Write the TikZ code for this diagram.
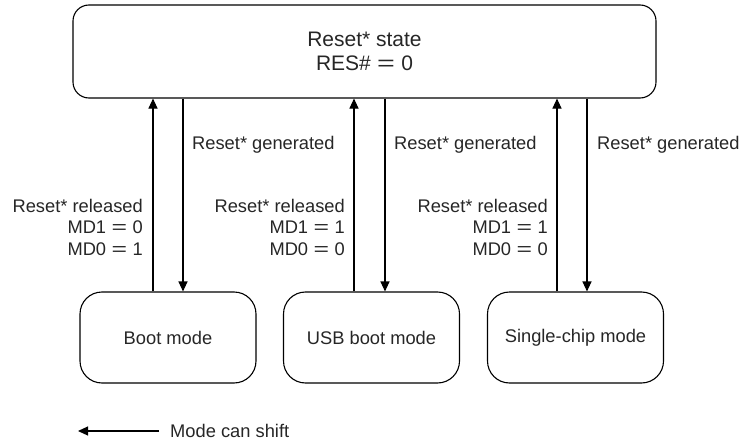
\documentclass[tikz,border=0pt]{standalone}
\usepackage{fontspec}
\setmainfont{Liberation Sans}
\usetikzlibrary{arrows.meta}
\newcommand{\wideeq}{\hspace{0.3em}\scalebox{1.45}[1]{=}\hspace{0.3em}}
\begin{document}
\begin{tikzpicture}[x=1pt,y=-1pt,
  every node/.style={font=\fontsize{18.3}{21.5}\selectfont, text=black!85},
  statebox/.style={draw, line width=1.1pt, rounded corners=#1, inner sep=0pt},
  arr/.style={-{Triangle[length=10pt,width=9pt]}, line width=1.1pt},
  lbl/.style={align=right, anchor=east, inner sep=0pt},
  glbl/.style={anchor=west, inner sep=0pt}]
\useasboundingbox (0,0) rectangle (742,444);
\node[statebox=16pt, minimum width=583pt, minimum height=93pt, align=center,
      font=\fontsize{21}{24.5}\selectfont] (top) at (364.5,51.5) {Reset* state\\RES\#\wideeq 0};
\node[statebox=22pt, minimum width=176pt, minimum height=91pt] (boot) at (168,337.5) {Boot mode};
\node[statebox=22pt, minimum width=176pt, minimum height=91pt] (usb) at (371.5,337.5) {USB boot mode};
\node[statebox=22pt, minimum width=176pt, minimum height=91pt] (single) at (575.5,337.5) {Single-chip mode};
% up arrows (released)
\draw[arr] (boot.north -| 153,0) -- (top.south -| 153,0);
\draw[arr] (usb.north -| 354,0) -- (top.south -| 354,0);
\draw[arr] (single.north -| 557,0) -- (top.south -| 557,0);
% down arrows (generated)
\draw[arr] (top.south -| 183,0) -- (boot.north -| 183,0);
\draw[arr] (top.south -| 385,0) -- (usb.north -| 385,0);
\draw[arr] (top.south -| 587,0) -- (single.north -| 587,0);
% labels
\node[glbl] (g1) at (192,145) {Reset* generated};
\node[glbl] (g2) at (394,145) {Reset* generated};
\node[glbl] (g3) at (597,145) {Reset* generated};
\node[lbl] (r1) at (143,227) {Reset* released\\MD1\wideeq 0\\MD0\wideeq 1};
\node[lbl] (r2) at (345,227) {Reset* released\\MD1\wideeq 1\\MD0\wideeq 0};
\node[lbl] (r3) at (548,227) {Reset* released\\MD1\wideeq 1\\MD0\wideeq 0};
% legend
\node[glbl] (leg) at (170,431) {Mode can shift};
\coordinate (legend end) at (78,431);
\draw[arr] (leg.west) ++(-11,0) -- (legend end);
\end{tikzpicture}
\end{document}
